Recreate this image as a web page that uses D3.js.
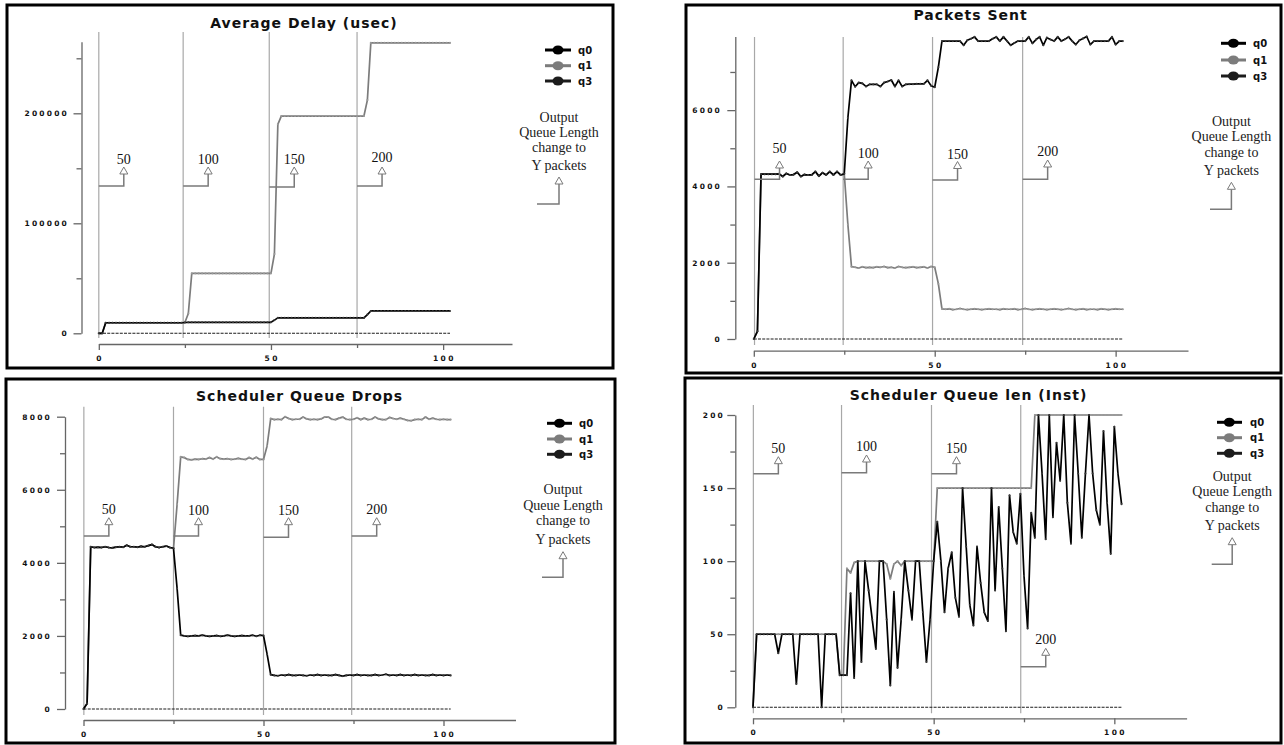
<!DOCTYPE html>
<html><head><meta charset="utf-8">
<script src="https://cdn.jsdelivr.net/npm/d3@7"></script>
<style>body{margin:0;background:#fff}svg{display:block}</style>
</head><body>
<svg id="c" width="1284" height="745"></svg>
<script>
// ---------------- DATA ----------------
const titles = ["Average Delay (usec)", "Packets Sent", "Scheduler Queue Drops", "Scheduler Queue len (Inst)"];
const seriesNames = ["q0", "q1", "q3"];
const xTicks = [0, 50, 100];
const xMinorTicks = [25, 75];
const xMax = 120;
const changeLabels = ["50", "100", "150", "200"];
const noteLines = ["Output", "Queue Length", "change to", "Y packets"];

// time of each "output queue length change" marker, per panel
const delayChanges = [0, 24.5, 49.5, 75];
const sentChanges = [0.2, 24.7, 49.4, 74.3];
const dropsChanges = [0.1, 25, 50, 74.5];
const qlenChanges = [0.1, 24.5, 49.4, 74.1];

// y axes
const delayYTicks = [0, 100000, 200000];
const delayYMinor = [50000, 150000, 250000];
const sentYTicks = [0, 2000, 4000, 6000];
const sentYMinor = [1000, 3000, 5000, 7000];
const dropsYTicks = [0, 2000, 4000, 6000, 8000];
const dropsYMinor = [1000, 3000, 5000, 7000];
const qlenYTicks = [0, 50, 100, 150, 200];
const qlenYMinor = [25, 75, 125, 175];
const yAxisMax = [265000, 7930, 8000, 200];

// series values, one sample per time unit (t = 0 .. 102)
const delayQ0 = [
 0,0,9600,9600,9600,9600,9600,9600,9600,9600,
 9600,9600,9600,9600,9600,9600,9600,9600,9600,9600,
 9600,9600,9600,9600,9600,9800,10000,10000,10000,10000,
 10000,10000,10000,10000,10000,10000,10000,10000,10000,10000,
 10000,10000,10000,10000,10000,10000,10000,10000,10000,10000,
 10000,12000,14000,14000,14000,14000,14000,14000,14000,14000,
 14000,14000,14000,14000,14000,14000,14000,14000,14000,14000,
 14000,14000,14000,14000,14000,14000,14000,14000,17000,20300,
 20300,20300,20300,20300,20300,20300,20300,20300,20300,20300,
 20300,20300,20300,20300,20300,20300,20300,20300,20300,20300,
 20300,20300,20300];
const delayQ1 = [
 0,0,9600,9600,9600,9600,9600,9600,9600,9600,
 9600,9600,9600,9600,9600,9600,9600,9600,9600,9600,
 9600,9600,9600,9600,9600,9800,18000,54500,54500,54500,
 54500,54500,54500,54500,54500,54500,54500,54500,54500,54500,
 54500,54500,54500,54500,54500,54500,54500,54500,54500,54500,
 54500,72000,190000,197500,197500,197500,197500,197500,197500,197500,
 197500,197500,197500,197500,197500,197500,197500,197500,197500,197500,
 197500,197500,197500,197500,197500,197500,197500,197500,212000,264000,
 264000,264000,264000,264000,264000,264000,264000,264000,264000,264000,
 264000,264000,264000,264000,264000,264000,264000,264000,264000,264000,
 264000,264000,264000];
const delayQ3 = [
 0,0,0,0,0,0,0,0,0,0, 0,0,0,0,0,0,0,0,0,0, 0,0,0,0,0,0,0,0,0,0,
 0,0,0,0,0,0,0,0,0,0, 0,0,0,0,0,0,0,0,0,0, 0,0,0,0,0,0,0,0,0,0,
 0,0,0,0,0,0,0,0,0,0, 0,0,0,0,0,0,0,0,0,0, 0,0,0,0,0,0,0,0,0,0,
 0,0,0,0,0,0,0,0,0,0, 0,0,0];

const sentQ0 = [
 0,200,4320,4320,4320,4320,4320,4330,4260,4340,
 4300,4310,4370,4260,4310,4300,4300,4390,4270,4360,
 4300,4390,4300,4390,4300,4330,5800,6780,6614,6720,
 6700,6620,6675,6675,6675,6620,6720,6750,6790,6620,
 6780,6620,6675,6680,6680,6690,6690,6690,6780,6640,
 6600,7120,7810,7810,7810,7810,7810,7810,7700,7830,
 7870,7920,7810,7810,7810,7810,7870,7920,7810,7920,
 7810,7700,7760,7810,7810,7810,7920,7750,7850,7920,
 7700,7900,7850,7810,7920,7810,7860,7920,7810,7720,
 7830,7880,7930,7720,7810,7810,7810,7810,7810,7920,
 7720,7810,7810];
const sentQ1 = [
 0,200,4320,4320,4320,4320,4320,4330,4260,4340,
 4300,4310,4370,4260,4310,4300,4300,4390,4270,4360,
 4300,4390,4300,4390,4300,4330,3000,1895,1880,1860,
 1890,1870,1880,1870,1890,1880,1900,1870,1880,1860,
 1900,1880,1870,1880,1890,1870,1880,1890,1860,1900,
 1880,1450,790,780,790,770,780,800,780,770,
 780,790,780,770,780,790,780,780,770,790,
 780,780,790,770,780,800,780,770,780,790,
 780,770,780,790,780,770,780,800,780,770,
 780,790,770,780,780,770,790,780,770,780,
 790,780,780];
const sentQ3 = [
 0,0,0,0,0,0,0,0,0,0, 0,0,0,0,0,0,0,0,0,0, 0,0,0,0,0,0,0,0,0,0,
 0,0,0,0,0,0,0,0,0,0, 0,0,0,0,0,0,0,0,0,0, 0,0,0,0,0,0,0,0,0,0,
 0,0,0,0,0,0,0,0,0,0, 0,0,0,0,0,0,0,0,0,0, 0,0,0,0,0,0,0,0,0,0,
 0,0,0,0,0,0,0,0,0,0, 0,0,0];

const dropsQ0 = [
 0,150,4440,4420,4430,4420,4440,4420,4410,4430,
 4440,4430,4480,4440,4440,4430,4450,4440,4470,4500,
 4440,4420,4440,4460,4420,4400,3300,2020,2000,1990,
 2000,2010,2000,2020,2000,1990,2000,2010,1990,2000,
 2020,2000,1990,2000,2010,2000,2000,2020,1990,2020,
 2010,1500,940,920,910,930,920,940,920,920,
 930,920,910,930,920,940,920,930,920,920,
 940,920,900,920,930,920,940,920,930,920,
 920,940,920,930,950,920,930,920,940,920,
 930,920,940,920,930,920,920,940,920,930,
 920,930,920];
const dropsQ1 = [
 0,150,4440,4420,4430,4420,4440,4420,4410,4430,
 4440,4430,4480,4440,4440,4430,4450,4440,4470,4500,
 4440,4420,4440,4460,4420,4400,5600,6900,6880,6830,
 6820,6840,6830,6850,6840,6880,6840,6900,6850,6840,
 6850,6830,6840,6860,6840,6830,6880,6840,6890,6830,
 6830,7200,7950,7920,7930,7920,8000,7950,7920,7930,
 7930,7990,7940,7920,7930,7920,7940,7990,7990,7930,
 7920,7960,7990,7930,7920,7930,7970,7920,7960,7920,
 7930,7990,7940,7920,7920,7980,7950,7930,7960,7930,
 7900,7890,7920,7930,7920,7990,7930,7960,7930,7920,
 7930,7920,7920];
const dropsQ3 = [
 0,0,0,0,0,0,0,0,0,0, 0,0,0,0,0,0,0,0,0,0, 0,0,0,0,0,0,0,0,0,0,
 0,0,0,0,0,0,0,0,0,0, 0,0,0,0,0,0,0,0,0,0, 0,0,0,0,0,0,0,0,0,0,
 0,0,0,0,0,0,0,0,0,0, 0,0,0,0,0,0,0,0,0,0, 0,0,0,0,0,0,0,0,0,0,
 0,0,0,0,0,0,0,0,0,0, 0,0,0];

const qlenQ0 = [
 0,50,50,50,50,50,50,37,50,50,
 50,50,16,50,50,50,50,50,50,0,
 50,50,50,50,22,22,22,78,20,100,
 31,100,80,60,40,100,100,60,15,79,
 27,60,100,80,60,100,100,65,31,60,
 100,127,100,65,95,106,75,62,150,110,
 70,56,110,85,65,59,150,80,137,95,
 52,145,120,112,146,90,54,133,116,200,
 160,115,200,130,181,155,200,140,112,200,
 160,116,160,200,160,135,125,189,140,105,
 192,160,139];
const qlenQ1 = [
 0,50,50,50,50,50,50,50,50,50,
 50,50,50,50,50,50,50,50,50,50,
 50,50,50,50,22,22,95,92,99,100,
 100,100,100,100,100,100,100,98,88,98,
 100,97,100,100,100,100,100,100,100,100,
 100,150,150,150,150,150,150,150,150,150,
 150,150,150,150,150,150,150,150,150,150,
 150,150,150,150,150,150,150,150,200,200,
 200,200,200,200,200,200,200,200,200,200,
 200,200,200,200,200,200,200,200,200,200,
 200,200,200];
const qlenQ3 = [
 0,0,0,0,0,0,0,0,0,0, 0,0,0,0,0,0,0,0,0,0, 0,0,0,0,0,0,0,0,0,0,
 0,0,0,0,0,0,0,0,0,0, 0,0,0,0,0,0,0,0,0,0, 0,0,0,0,0,0,0,0,0,0,
 0,0,0,0,0,0,0,0,0,0, 0,0,0,0,0,0,0,0,0,0, 0,0,0,0,0,0,0,0,0,0,
 0,0,0,0,0,0,0,0,0,0, 0,0,0];

// ---------------- STYLE / LAYOUT ----------------
const colors = {q0: "#000000", q1: "#7c7c7c", q3: "#1c1c1c"};
const tickFont = "DejaVu Sans, sans-serif";
const serif = "Liberation Serif, Times New Roman, serif";

const layouts = [
  { frame:[7,5,606,363], title:[304,28],
    x0:98.8, x1:512, xAxisY:344, xLabelY:361,
    y0:333.3, yTop:41.8, yAxisX:81.5, yLabelX:67,
    vTop:32, vBot:338,
    hy:[186,186,187,186], tip:[167,167,167,167], lab:[164,164,164,162],
    leg:{x1:545,x2:571,dot:558,tx:578,rows:[50,65.7,81]},
    note:{x:559,base:[122,137,152,170],tip:177,bot:204,hx0:537} },
  { frame:[686,5,595,368], title:[970.6,20],
    x0:753.8, x1:1188, xAxisY:350.7, xLabelY:367.5,
    y0:339, yTop:36.5, yAxisX:735.3, yLabelX:720,
    vTop:37, vBot:345,
    hy:[179.3,179.3,180,179.3], tip:[161,161,161.5,160], lab:[152.5,157.5,159,155.5],
    leg:{x1:1221,x2:1246,dot:1233.4,tx:1253,rows:[43.3,60,76]},
    note:{x:1231.4,base:[125.5,141,157,175],tip:182.3,bot:209.3,hx0:1210} },
  { frame:[6,379,609,364], title:[299.6,401],
    x0:83.5, x1:515.5, xAxisY:720, xLabelY:736.5,
    y0:709, yTop:416.7, yAxisX:65, yLabelX:50,
    vTop:406.7, vBot:715,
    hy:[536,536,537.3,536], tip:[517.7,517.7,517.7,517.7], lab:[514,515,515,514],
    leg:{x1:547,x2:572,dot:559.5,tx:579,rows:[423.3,439,454.3]},
    note:{x:563,base:[494,510,525,544],tip:551.7,bot:577.3,hx0:542} },
  { frame:[685,378,596,365], title:[968.5,400],
    x0:753, x1:1186.6, xAxisY:718.3, xLabelY:734.5,
    y0:707.3, yTop:415, yAxisX:735.3, yLabelX:723,
    vTop:405, vBot:713.3,
    hy:[473.7,472.7,473.7,666.7], tip:[456.7,455,456.7,648.3], lab:[452.7,450.7,453.3,644],
    leg:{x1:1217,x2:1242,dot:1229.3,tx:1250,rows:[422.3,437.7,453.3]},
    note:{x:1232.2,base:[480.7,496,512.3,530],tip:537.7,bot:564.3,hx0:1211.7} }
];

const panels = [
  {title:titles[0], series:{q0:delayQ0,q1:delayQ1,q3:delayQ3}, yTicks:delayYTicks, yMinor:delayYMinor, yMax:yAxisMax[0], changes:delayChanges, L:layouts[0]},
  {title:titles[1], series:{q0:sentQ0,q1:sentQ1,q3:sentQ3}, yTicks:sentYTicks, yMinor:sentYMinor, yMax:yAxisMax[1], changes:sentChanges, L:layouts[1]},
  {title:titles[2], series:{q0:dropsQ0,q1:dropsQ1,q3:dropsQ3}, yTicks:dropsYTicks, yMinor:dropsYMinor, yMax:yAxisMax[2], changes:dropsChanges, L:layouts[2]},
  {title:titles[3], series:{q0:qlenQ0,q1:qlenQ1,q3:qlenQ3}, yTicks:qlenYTicks, yMinor:qlenYMinor, yMax:yAxisMax[3], changes:qlenChanges, L:layouts[3]}
];

const svg = d3.select("#c");

function drawPanel(p) {
  const L = p.L;
  const g = svg.append("g");
  const x = d3.scaleLinear().domain([0, xMax]).range([L.x0, L.x1]);
  const y = d3.scaleLinear().domain([0, p.yMax]).range([L.y0, L.yTop]);

  // frame
  g.append("rect").attr("x", L.frame[0]).attr("y", L.frame[1])
    .attr("width", L.frame[2]).attr("height", L.frame[3])
    .attr("fill", "none").attr("stroke", "#000").attr("stroke-width", 3);

  // title
  g.append("text").attr("x", L.title[0]).attr("y", L.title[1])
    .attr("text-anchor", "middle").attr("font-family", tickFont)
    .attr("font-weight", "bold").attr("font-size", 14).attr("letter-spacing", 1)
    .attr("fill", "#111").text(p.title);

  // change marker vertical lines
  g.selectAll("line.vl").data(p.changes).join("line")
    .attr("x1", d => x(d)).attr("x2", d => x(d))
    .attr("y1", L.vTop).attr("y2", L.vBot)
    .attr("stroke", "#a8a8a8").attr("stroke-width", 1.2);

  // y axis
  const ya = g.append("g").attr("transform", `translate(${L.yAxisX},0)`)
    .call(d3.axisLeft(y).tickValues(p.yTicks).tickSize(8).tickSizeOuter(0).tickFormat(""));
  const ym = g.append("g").attr("transform", `translate(${L.yAxisX},0)`)
    .call(d3.axisLeft(y).tickValues(p.yMinor).tickSize(5).tickSizeOuter(0).tickFormat(""));
  ym.select(".domain").remove();
  g.selectAll("text.yl").data(p.yTicks).join("text")
    .attr("x", L.yLabelX + 2).attr("y", d => y(d) + 3)
    .attr("text-anchor", "end").attr("font-family", tickFont).attr("font-weight", "bold")
    .attr("font-size", 7.5).attr("letter-spacing", 2.2).attr("fill", "#111")
    .text(d => d);

  // x axis
  const xa = g.append("g").attr("transform", `translate(0,${L.xAxisY})`)
    .call(d3.axisBottom(x).tickValues(xTicks).tickSize(6).tickSizeOuter(0).tickFormat(""));
  const xm = g.append("g").attr("transform", `translate(0,${L.xAxisY})`)
    .call(d3.axisBottom(x).tickValues(xMinorTicks).tickSize(4).tickSizeOuter(0).tickFormat(""));
  xm.select(".domain").remove();
  g.selectAll("text.xl").data(xTicks).join("text")
    .attr("x", d => x(d) + 1.2).attr("y", L.xLabelY)
    .attr("text-anchor", "middle").attr("font-family", tickFont).attr("font-weight", "bold")
    .attr("font-size", 7.5).attr("letter-spacing", 2.4).attr("fill", "#111")
    .text(d => d);

  [ya, ym, xa, xm].forEach(a => {
    a.selectAll("path,line").attr("stroke", "#666").attr("stroke-width", 1.3);
  });

  // series: draw q1 first, then q3, then q0 on top
  const order = ["q1", "q3", "q0"];
  order.forEach(name => {
    const vals = p.series[name];
    const line = d3.line().x((d, i) => x(i)).y(d => y(d));
    const isZero = name === "q3";
    g.append("path").datum(vals).attr("d", line)
      .attr("fill", "none").attr("stroke", colors[name])
      .attr("stroke-width", isZero ? 1.1 : 1.7)
      .attr("stroke-dasharray", isZero ? "3,1.2" : null)
      .attr("stroke-linejoin", "round");
    if (!isZero) {
      g.append("g").selectAll("circle").data(vals).join("circle")
        .attr("cx", (d, i) => x(i)).attr("cy", d => y(d)).attr("r", 1.05)
        .attr("fill", name === "q1" ? "#9a9a9a" : "#3a3a3a");
    }
  });

  // change annotations
  p.changes.forEach((c, i) => {
    const vx = x(c), ax = vx + 25;
    const hy = L.hy[i], tp = L.tip[i];
    g.append("path")
      .attr("d", `M${vx},${hy}H${ax}V${tp + 7}`)
      .attr("fill", "none").attr("stroke", "#7a7a7a").attr("stroke-width", 1.5);
    g.append("path")
      .attr("d", `M${ax},${tp}L${ax - 4},${tp + 7}L${ax + 4},${tp + 7}Z`)
      .attr("fill", "#fff").attr("stroke", "#7a7a7a").attr("stroke-width", 1);
    g.append("text").attr("x", ax).attr("y", L.lab[i])
      .attr("text-anchor", "middle").attr("font-family", serif).attr("font-size", 14)
      .attr("fill", "#111").text(changeLabels[i]);
  });

  // legend
  seriesNames.forEach((name, i) => {
    const ry = L.leg.rows[i];
    g.append("line").attr("x1", L.leg.x1).attr("x2", L.leg.x2).attr("y1", ry).attr("y2", ry)
      .attr("stroke", colors[name]).attr("stroke-width", 3);
    g.append("ellipse").attr("cx", L.leg.dot).attr("cy", ry).attr("rx", 5.5).attr("ry", 4.5)
      .attr("fill", colors[name]);
    g.append("text").attr("x", L.leg.tx).attr("y", ry + 3.5)
      .attr("font-family", tickFont).attr("font-weight", "bold").attr("font-size", 10)
      .attr("fill", "#111").text(name);
  });

  // note
  const N = L.note;
  noteLines.forEach((t, i) => {
    g.append("text").attr("x", N.x).attr("y", N.base[i]).attr("text-anchor", "middle")
      .attr("font-family", serif).attr("font-size", 14).attr("fill", "#222").text(t);
  });
  g.append("path").attr("d", `M${N.hx0},${N.bot}H${N.x}V${N.tip + 7}`)
    .attr("fill", "none").attr("stroke", "#7a7a7a").attr("stroke-width", 1.5);
  g.append("path").attr("d", `M${N.x},${N.tip}L${N.x - 4},${N.tip + 7}L${N.x + 4},${N.tip + 7}Z`)
    .attr("fill", "#fff").attr("stroke", "#7a7a7a").attr("stroke-width", 1);
}

panels.forEach(drawPanel);
</script>
</body></html>
